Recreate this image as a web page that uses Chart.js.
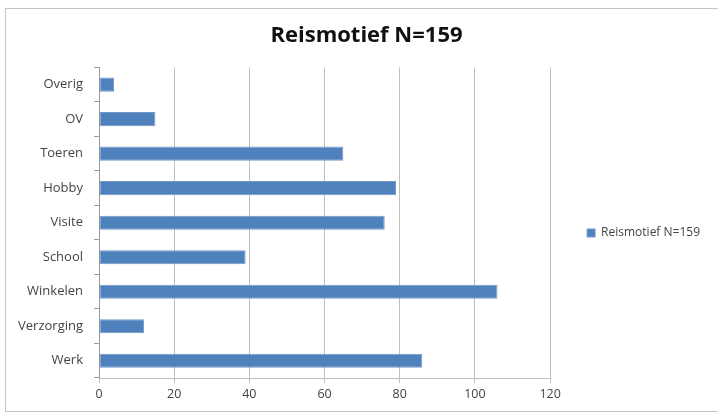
<!DOCTYPE html>
<html>
<head>
<meta charset="utf-8">
<script src="https://cdn.jsdelivr.net/npm/chart.js@4"></script>
<style>
  body { margin: 0; background: #fff; }
  #kader {
    position: absolute; left: 5px; top: 8px;
    width: 714px; height: 404px;
    box-sizing: border-box;
    border: 1px solid #c4c4c4;
  }
</style>
</head>
<body>
<div id="kader"><canvas id="grafiek"></canvas></div>
<script>
const motieven = ["Overig", "OV", "Toeren", "Hobby", "Visite", "School", "Winkelen", "Verzorging", "Werk"];
const aantallen = [4, 15, 65, 79, 76, 39, 106, 12, 86];
const reeksNaam = "Reismotief N=159";
const xMax = 120;
const xStap = 20;

// legenda en titel iets verschuiven zoals in Excel
const verschuiving = {
    id: "verschuiving",
    afterLayout(chart) {
        const l = chart.legend;
        l.left -= 1; l.right -= 1;
        l.top += 23; l.bottom += 23;
        const t = chart.titleBlock;
        if (t) { t.left += 4; t.right += 4; }
    }
};

const lettertype = "'Open Sans'";
const ctx = document.getElementById("grafiek").getContext("2d");

new Chart(ctx, {
    type: "bar",
    data: {
        labels: motieven,
        datasets: [{
            label: reeksNaam,
            data: aantallen,
            backgroundColor: "#4f81bd",
            borderColor: "#7399cb",
            borderWidth: 1,
            borderSkipped: false,
            barPercentage: 0.41,
            categoryPercentage: 1
        }]
    },
    options: {
        indexAxis: "y",
        responsive: true,
        maintainAspectRatio: false,
        animation: false,
        layout: { padding: { left: 8, right: 7, top: 0, bottom: 0 } },
        plugins: {
            title: {
                display: true,
                text: reeksNaam,
                color: "#111",
                font: { family: lettertype, size: 22, weight: "bold" },
                padding: { top: 14, bottom: 18 }
            },
            legend: {
                position: "right",
                labels: {
                    boxWidth: 8,
                    boxHeight: 8,
                    padding: 38,
                    color: "#444",
                    font: { family: lettertype, size: 12 }
                }
            },
            tooltip: { enabled: false }
        },
        scales: {
            x: {
                min: 0,
                max: xMax,
                ticks: { stepSize: xStap, color: "#444", padding: 4, font: { family: lettertype, size: 12.5 } },
                grid: { color: "#bfbfbf", tickLength: 5 },
                border: { display: true, color: "#bfbfbf" },
                afterFit(scale) { scale.height = 33; }
            },
            y: {
                ticks: { color: "#444", padding: 11, font: { family: lettertype, size: 13 } },
                grid: { drawOnChartArea: false, color: "#9a9a9a", tickLength: 5 },
                border: { display: true, color: "#9a9a9a" },
                afterFit(scale) { scale.width = 85; }
            }
        }
    },
    plugins: [verschuiving]
});
</script>
</body>
</html>
